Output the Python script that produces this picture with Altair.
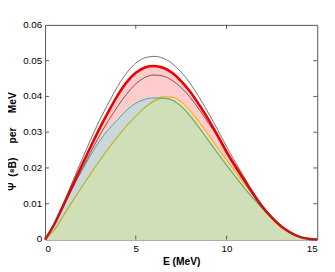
import altair as alt
import pandas as pd

E = [0, 0.5, 1, 1.5, 2, 2.5, 3, 3.5, 4, 4.5, 5, 5.5, 6, 6.5, 7, 7.5, 8, 8.5, 9, 9.5,
     10, 10.5, 11, 11.5, 12, 12.5, 13, 13.5, 14, 14.5, 15]

black = [0, 0.0044, 0.0100, 0.0160, 0.0220, 0.0278, 0.0333, 0.0382, 0.0428, 0.0466, 0.0493,
         0.0508, 0.0512, 0.0507, 0.0492, 0.0468, 0.0436, 0.0397, 0.0354, 0.0308, 0.0260,
         0.0215, 0.0172, 0.0131, 0.0094, 0.0063, 0.0039, 0.0021, 0.0009, 0.0002, 0]
red = [0, 0.0042, 0.0095, 0.0150, 0.0205, 0.0258, 0.0310, 0.0358, 0.0403, 0.0440, 0.0466,
       0.0481, 0.0485, 0.0480, 0.0466, 0.0443, 0.0413, 0.0376, 0.0336, 0.0292, 0.0246,
       0.0204, 0.0165, 0.0125, 0.0090, 0.0061, 0.0037, 0.0020, 0.0008, 0.0002, 0]
brown = [0, 0.0040, 0.0090, 0.0142, 0.0193, 0.0243, 0.0290, 0.0333, 0.0372, 0.0407, 0.0435,
         0.0453, 0.0460, 0.0457, 0.0445, 0.0425, 0.0397, 0.0363, 0.0326, 0.0287, 0.0240,
         0.0199, 0.0160, 0.0121, 0.0087, 0.0059, 0.0036, 0.0019, 0.0008, 0.0002, 0]
cyan = [0, 0.0040, 0.0093, 0.0145, 0.0190, 0.0235, 0.0275, 0.0308, 0.0335, 0.0362, 0.0381,
        0.0392, 0.0396, 0.0395, 0.0390, 0.0372, 0.0345, 0.0312, 0.0277, 0.0242, 0.0208,
        0.0175, 0.0143, 0.0113, 0.0085, 0.0059, 0.0037, 0.0020, 0.0008, 0.0002, 0]
orange = [0, 0.0026, 0.0066, 0.0106, 0.0145, 0.0183, 0.0220, 0.0255, 0.0288, 0.0318, 0.0345,
          0.0369, 0.0389, 0.0399, 0.0398, 0.0385, 0.0360, 0.0328, 0.0293, 0.0257, 0.0222,
          0.0188, 0.0155, 0.0123, 0.0093, 0.0065, 0.0041, 0.0022, 0.0009, 0.0002, 0]
green = [0, 0.0026, 0.0066, 0.0106, 0.0145, 0.0183, 0.0220, 0.0255, 0.0288, 0.0318, 0.0345,
         0.0369, 0.0386, 0.0395, 0.0390, 0.0372, 0.0345, 0.0312, 0.0277, 0.0242, 0.0208,
         0.0175, 0.0143, 0.0113, 0.0085, 0.0059, 0.0037, 0.0020, 0.0008, 0.0002, 0]

x_ticks = [0, 5, 10, 15]
y_ticks = [0, 0.01, 0.02, 0.03, 0.04, 0.05, 0.06]
y_tick_labels = ["0", "0.01", "0.02", "0.03", "0.04", "0.05", "0.06"]

df = pd.DataFrame({"E": E, "black": black, "red": red, "brown": brown,
                   "cyan": cyan, "orange": orange, "green": green})

W, H = 279, 220
xs = alt.Scale(domain=[0, 15], nice=False)
ys = alt.Scale(domain=[0, 0.06], nice=False)
font = "Liberation Sans"
nb = "\u00a0"
ytitle = "Ψ" + nb * 2 + "(⁸B)" + nb * 5 + "per" + nb * 5 + "MeV"

xax = alt.Axis(values=x_ticks, grid=False, ticks=False, domain=False, labelFont=font,
               labelFontSize=10, labelColor="black", labelPadding=4, labelOverlap=False,
               title="E (MeV)",
               titleFont=font, titleFontSize=10.5, titleFontWeight="bold", titleColor="black",
               titlePadding=4)
yax = alt.Axis(labels=False, grid=False, ticks=False, domain=False,
               title=ytitle, titleFont=font, titleFontSize=10.5, titleY=119,
               titleFontWeight="bold", titleColor="black", titlePadding=28)


def X(f):
    return alt.X(f, scale=xs, axis=xax)


def Y(f):
    return alt.Y(f, scale=ys, axis=yax)


base = alt.Chart(df)


def area(col, color):
    return base.mark_area(color=color, opacity=1, interpolate="monotone").encode(
        x=X("E:Q"), y=Y(f"{col}:Q"))


def line(col, color, w):
    return base.mark_line(color=color, strokeWidth=w, interpolate="monotone").encode(
        x=X("E:Q"), y=Y(f"{col}:Q"))


xt = pd.DataFrame({"v": x_ticks[1:-1]})
yt = pd.DataFrame({"v": y_ticks[1:-1]})
ylab = pd.DataFrame({"v": y_ticks, "t": y_tick_labels})
tick_color = "#555555"
ticks = [
    alt.Chart(xt).mark_rule(color=tick_color).encode(
        x=X("v:Q"), y=alt.value(H), y2=alt.value(H - 4)),
    alt.Chart(xt).mark_rule(color=tick_color).encode(
        x=X("v:Q"), y=alt.value(0), y2=alt.value(4)),
    alt.Chart(yt).mark_rule(color=tick_color).encode(
        y=Y("v:Q"), x=alt.value(0), x2=alt.value(4)),
    alt.Chart(yt).mark_rule(color=tick_color).encode(
        y=Y("v:Q"), x=alt.value(W), x2=alt.value(W - 4)),
    alt.Chart(ylab).mark_text(align="right", baseline="middle", font=font, fontSize=10,
                              color="black", dx=-3).encode(
        y=Y("v:Q"), x=alt.value(0), text="t:N"),
]

chart = alt.layer(
    area("red", "#ffcccc"),
    area("cyan", "#cbd7d8"),
    area("orange", "#fdd9a2"),
    area("green", "#cfe0b8"),
    line("orange", "#e8a800", 1),
    line("green", "#b2b83a", 1.1),
    line("cyan", "#30b0b4", 1),
    line("brown", "#8a4a4a", 1),
    line("red", "#ee0000", 2.6),
    line("black", "#505050", 0.8),
    *ticks,
).properties(
    width=W, height=H,
    autosize=alt.AutoSizeParams(type="none"),
    padding={"left": 38, "top": 14, "right": 10, "bottom": 30},
).configure_view(stroke="#555555", strokeWidth=1)

chart.save("out.html", embed_options={"renderer": "svg", "actions": False})
